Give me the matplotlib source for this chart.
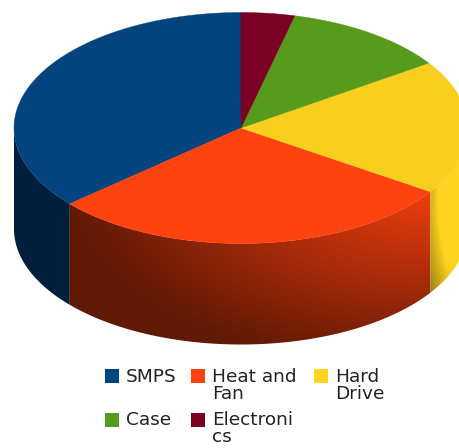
import numpy as np
import matplotlib
matplotlib.use('Agg')
import matplotlib.pyplot as plt
from matplotlib.patches import Polygon, Rectangle

categories = ['SMPS', 'Heat and\nFan', 'Hard\nDrive', 'Case', 'Electroni\ncs']
shares = [36.4, 29.3, 18.8, 11.7, 3.8]
colors = ['#004586', '#ff420e', '#ffd320', '#579d1c', '#7e0021']
top_colors = ['#03447f', '#fd430f', '#f8ce1f', '#579a1c', '#7a0024']

WIDTH, HEIGHT = 459, 448
CX, CY = 241, 128
RX, RY = 227, 115.5
DEPTH = 101


def rim(start, stop, n=200):
    # angles run clockwise from the top of the pie, in degrees
    t = np.radians(np.linspace(start, stop, n))
    return CX + RX * np.sin(t), CY - RY * np.cos(t)


fig = plt.figure(figsize=(WIDTH / 100, HEIGHT / 100), dpi=100)
ax = fig.add_axes([0, 0, 1, 1])
ax.set_xlim(0, WIDTH)
ax.set_ylim(HEIGHT, 0)
ax.axis('off')

# slices go counter-clockwise from the top, SMPS first
edges = 360 - np.cumsum([0] + shares) * 3.6
spans = list(zip(edges[1:], edges[:-1]))

yy, xx = np.mgrid[0:HEIGHT, 0:WIDTH] + 0.5


def side_wall(start, stop, color, shade):
    # visible part of the wall is the lower half of the rim
    start, stop = max(start, 90), min(stop, 270)
    if start >= stop:
        return
    x, y = rim(start, stop)
    pts = np.r_[np.c_[x, y], np.c_[x[::-1], y[::-1] + DEPTH]]
    clip = Polygon(pts, closed=True, transform=ax.transData, fc='none', ec='none')
    ax.add_patch(clip)
    rgb = np.array(matplotlib.colors.to_rgb(color))
    img = rgb[None, None, :] * shade[:, :, None]
    im = ax.imshow(np.clip(img, 0, 1), extent=(0, WIDTH, HEIGHT, 0),
                   interpolation='bilinear', aspect='auto', zorder=2)
    im.set_clip_path(clip)


# walls are lit from the right, falling off towards the far side
dist = np.hypot((xx - 430) / 340, (yy - 190) / 170)
red_shade = np.clip(0.94 - 0.53 * dist, 0.38, 1)
dist = np.hypot((xx - 465) / 35, (yy - 200) / 110)
yellow_shade = np.clip(0.97 - 0.75 * (dist - 0.8), 0.6, 1)
blue_shade = np.full_like(xx, 0.45)
shades = [blue_shade, red_shade, yellow_shade, yellow_shade, yellow_shade]

for span, color, shade in zip(spans, colors, shades):
    side_wall(span[0], span[1], color, shade)

# top face of each slice
for span, color in zip(spans, top_colors):
    x, y = rim(span[0], span[1])
    pts = np.r_[[[CX, CY]], np.c_[x, y]]
    ax.add_patch(Polygon(pts, closed=True, fc=color, ec=color, lw=0.3, zorder=3))

ax.set_xlim(0, WIDTH)
ax.set_ylim(HEIGHT, 0)

# legend, laid out by hand so the wrapped labels share rows
legend_x = [105, 191, 314, 105, 191]
legend_y = [369, 369, 369, 413, 413]
text_y = [368, 368, 368, 411, 411]
for name, color, lx, ly, ty in zip(categories, colors, legend_x, legend_y, text_y):
    ax.add_patch(Rectangle((lx, ly), 14, 14, fc=color, ec='none', zorder=4))
    ax.text(lx + 21, ty, name, fontsize=13.3, family='DejaVu Sans', color='#222222',
            va='top', ha='left', linespacing=0.96, zorder=4)

fig.savefig('out.png', dpi=100)
